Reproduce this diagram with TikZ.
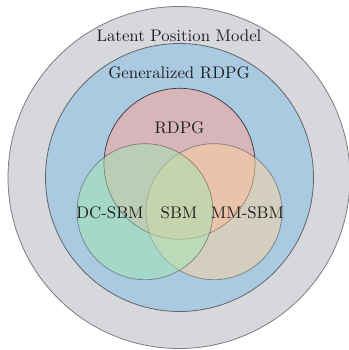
\documentclass[tikz,border=0pt]{standalone}
\usepackage{fontspec}
\setmainfont{lmroman10-regular}[Extension=.otf]
\definecolor{outergray}{RGB}{214,216,221}
\definecolor{outerline}{RGB}{125,125,128}
\definecolor{gblue}{RGB}{170,202,225}
\definecolor{rdpgpink}{RGB}{214,181,187}
\definecolor{mmorange}{RGB}{255,210,156}
\definecolor{dcgreen}{RGB}{164,230,178}
\definecolor{edgedark}{RGB}{55,55,55}
\tikzset{
  lbl/.style={anchor=base, inner sep=0pt, font=\fontsize{16.8bp}{20bp}\selectfont, text=black!88},
  setline/.style={draw=edgedark, line width=0.7bp},
}
\begin{document}
\begin{tikzpicture}[x=1bp,y=-1bp]
\useasboundingbox (0,0) rectangle (349,350);
\begin{scope}
\clip (0,0) rectangle (349,350);
\fill[outergray, draw=outerline, line width=0.8bp] (179,177.5) circle (171);
\end{scope}
\fill[gblue, draw=outerline!80!black, line width=0.8bp] (179.5,177.5) circle (134);
\path[setline, fill=rdpgpink] (179.5,163.8) circle (75.5);
\path[setline, fill=mmorange, opacity=0.5] (214,211.7) circle (68);
\path[setline, fill=dcgreen, opacity=0.5] (145,211.7) circle (68);
\node[lbl] (lpm) at (179,41.5) {Latent Position Model};
\node[lbl] (grdpg) at (179,78.5) {Generalized RDPG};
\node[lbl] (rdpg) at (179.5,133.3) {RDPG};
\node[lbl] (dcsbm) at (110,218.3) {DC-SBM};
\node[lbl] (sbm) at (179,218.3) {SBM};
\node[lbl] (mmsbm) at (247.5,218.3) {MM-SBM};
\end{tikzpicture}
\end{document}
